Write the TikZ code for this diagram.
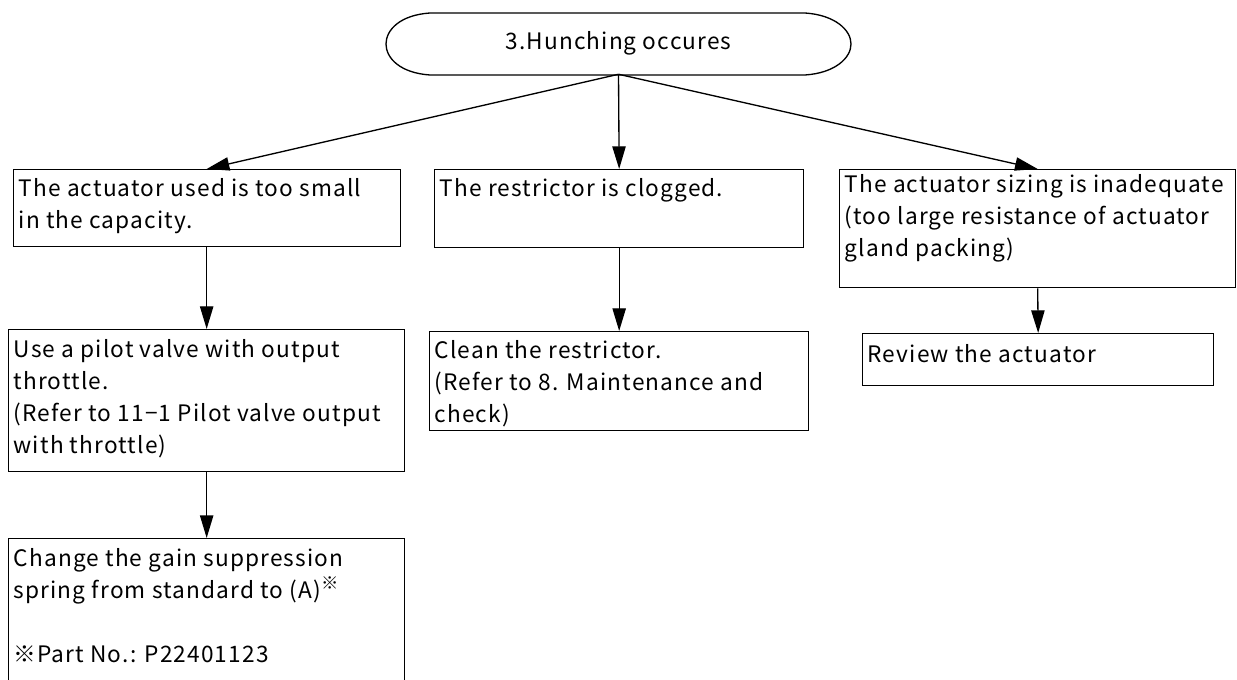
\documentclass[tikz,border=0pt]{standalone}
\usepackage{fontspec}
\setmainfont[LetterSpace=5]{Noto Sans CJK JP}
\usetikzlibrary{arrows.meta}
\newdimen\P \P=0.75pt
\newcommand\boxc[4]{\parbox[c][#2\P][t]{#1\P}{\raggedright\leftskip=5\P\baselineskip=32\P\lineskiplimit=-10pt\rule{0pt}{#3\P}#4}}
\tikzset{
  bx/.style={draw, line width=1pt, inner sep=0pt, anchor=north west, font=\fontsize{17pt}{24pt}\selectfont},
  arr/.style={line width=1pt, -{Triangle[length=17pt,width=10pt]}},
  term/.style={inner sep=0pt, minimum width=465\P, minimum height=62\P, font=\fontsize{17pt}{24pt}\selectfont}
}
\begin{document}
\begin{tikzpicture}[x=0.75pt,y=-0.75pt]
\useasboundingbox (0,0) rectangle (1237,680);
\fill[white] (0,0) rectangle (1237,680);
% terminator
\node[term] (t) at (618.5,43) {3.Hunching occures};
\draw[line width=1pt] (430,13) -- (805,13)
  .. controls (835,15) and (851,30) .. (851,44)
  .. controls (851,58) and (835,73) .. (805,75)
  -- (430,75)
  .. controls (400,73) and (386,58) .. (386,44)
  .. controls (386,30) and (400,15) .. (430,13) -- cycle;
% boxes
\node[bx] (a1) at (13,169) {\boxc{387}{77}{27}{The actuator used is too small\\in the capacity.}};
\node[bx] (b1) at (434,169) {\boxc{369}{78}{27}{The restrictor is clogged.}};
\node[bx] (c1) at (839,169) {\boxc{396}{118}{23}{The actuator sizing is inadequate\\(too large resistance of actuator\\gland packing)}};
\node[bx] (a2) at (8,329) {\boxc{396}{142}{28}{Use a pilot valve with output\\throttle.\\(Refer to 11−1 Pilot valve output\\with throttle)}};
\node[bx] (b2) at (429,331) {\boxc{379}{99}{27}{Clean the restrictor.\\(Refer to 8. Maintenance and\\check)}};
\node[bx] (c2) at (862,333) {\boxc{351}{52}{29}{Review the actuator}};
\node[bx] (a3) at (8,538) {\boxc{396}{180}{28}{Change the gain suppression\\\rule{0pt}{36\P}spring from standard to (A)\raisebox{9\P}{\fontsize{13pt}{13pt}\selectfont ※}\\[32\P]\rule{0pt}{33\P}※Part No.: P22401123}};
% connectors
\draw[arr] (t.south) -- (a1.north -| a2.north);
\draw[arr] (t.south) -- (b1.north);
\draw[arr] (t.south) -- (c1.north);
\draw[arr] (a2.north |- a1.south) -- (a2.north);
\draw[arr] (b1.south) -- (b2.north);
\draw[arr] (c1.south) -- (c2.north);
\draw[arr] (a2.south) -- (a3.north);
\end{tikzpicture}
\end{document}
